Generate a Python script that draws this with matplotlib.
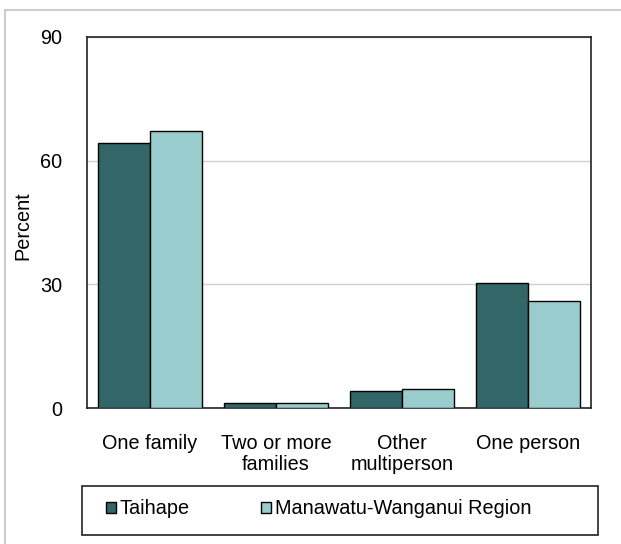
import matplotlib
matplotlib.use("Agg")
import matplotlib.pyplot as plt
import numpy as np
from matplotlib.patches import Rectangle

categories = ["One family", "Two or more\nfamilies", "Other\nmultiperson", "One person"]
series_names = ["Taihape", "Manawatu-Wanganui Region"]
taihape = [64.3, 1.2, 4.1, 30.3]
region = [67.2, 1.2, 4.6, 26.0]
yticks = [0, 30, 60, 90]
colors = ["#336666", "#99CCCC"]

plt.rcParams['font.family'] = ['Liberation Sans', 'DejaVu Sans']
FS = 14.3
fig = plt.figure(figsize=(6.21, 5.44), dpi=100)
W, H = 621, 544
# outer light border (extends off canvas on right and bottom)
fig.patches.append(Rectangle((5/W, -0.1), 1.2, 1.1 - 10/H, transform=fig.transFigure,
                             fill=False, edgecolor="#cccccc", linewidth=1.5))

ax = fig.add_axes([87/W, 1 - 408/H, (591-87)/W, (408-37)/H])
x = np.arange(len(categories))
bw = 0.413
ax.bar(x - bw/2, taihape, bw, color=colors[0], edgecolor="black", linewidth=1, label=series_names[0], zorder=3)
ax.bar(x + bw/2, region, bw, color=colors[1], edgecolor="black", linewidth=1, label=series_names[1], zorder=3)
ax.set_xlim(-0.5, len(categories) - 0.5)
ax.set_ylim(0, 90)
ax.set_yticks(yticks)
ax.set_yticklabels([str(v) for v in yticks], fontsize=FS)
ax.tick_params(axis='y', length=0, pad=18)
ax.set_xticks(x)
ax.set_xticklabels(categories, fontsize=FS, linespacing=1.1, va='top')
ax.tick_params(axis='x', length=0, pad=19)
ax.yaxis.grid(True, color="#d0d0d0", linewidth=1, zorder=0)
ax.set_axisbelow(True)
for s in ax.spines.values():
    s.set_linewidth(1.2)
    s.set_color("#222222")
fig.text(23/W, 1 - 226/H, "Percent", fontsize=FS, rotation=90, ha="center", va="center")

# legend frame
fig.patches.append(Rectangle((82/W, 1 - 535/H), (598-82)/W, (535-486)/H, transform=fig.transFigure,
                             fill=False, edgecolor="#222222", linewidth=1.2))
leg = fig.legend(loc="center left", bbox_to_anchor=(96/W, 1 - 509/H), ncol=2,
                 fontsize=FS, frameon=False,
                 handlelength=0.5, handleheight=0.5, handletextpad=0.2, columnspacing=3.6,
                 borderpad=0)
fig.savefig("out.png", dpi=100)
